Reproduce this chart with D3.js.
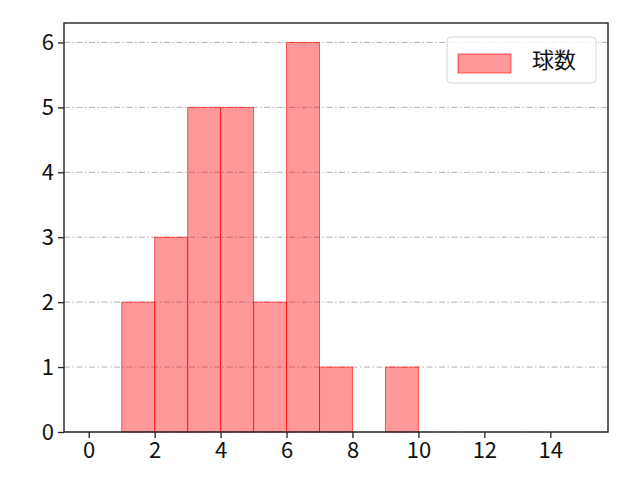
<!DOCTYPE html>
<html>
<head>
<meta charset="utf-8">
<script src="https://cdn.jsdelivr.net/npm/d3@7"></script>
<style>
  body { margin: 0; background: #fff; }
  text { font-family: "Noto Sans CJK JP", "DejaVu Sans", sans-serif; }
</style>
</head>
<body>
<svg id="chart" width="640" height="480"></svg>
<script>
// histogram bins (start, end) and counts
const binStarts = [1, 2, 3, 4, 5, 6, 7, 8, 9];
const binEnds = [2, 3, 4, 5, 6, 7, 8, 9, 10];
const counts = [2, 3, 5, 5, 2, 6, 1, 0, 1];
const xTicks = [0, 2, 4, 6, 8, 10, 12, 14];
const yTicks = [0, 1, 2, 3, 4, 5, 6];
const seriesName = "球数";

const svg = d3.select("#chart");
const margin = {left: 64, right: 32, top: 23, bottom: 48};
const width = 640 - margin.left - margin.right;
const height = 480 - margin.top - margin.bottom;

const x = d3.scaleLinear().domain([-0.75, 15.75]).range([0, width]);
const y = d3.scaleLinear().domain([0, 6.3]).range([height, 0]);

const g = svg.append("g").attr("transform", `translate(${margin.left},${margin.top})`);

// grid
g.selectAll(".grid")
    .data(yTicks)
    .enter()
    .append("line")
    .attr("x1", 0)
    .attr("x2", width)
    .attr("y1", d => y(d))
    .attr("y2", d => y(d))
    .attr("stroke", "#aaaaaa")
    .attr("stroke-width", 0.9)
    .attr("stroke-dasharray", "6,2.5,1.5,2.5");

const bins = binStarts.map((s, i) => ({x0: s, x1: binEnds[i], n: counts[i]}));

g.selectAll(".bar")
    .data(bins.filter(d => d.n > 0))
    .enter()
    .append("rect")
    .attr("x", d => x(d.x0))
    .attr("y", d => y(d.n))
    .attr("width", d => x(d.x1) - x(d.x0))
    .attr("height", d => y(0) - y(d.n))
    .attr("fill", "rgba(255,0,0,0.4)")
    .attr("stroke", "rgba(255,0,0,0.6)")
    .attr("stroke-width", 1);

// axes
const xAxis = g.append("g")
    .attr("transform", `translate(0,${height})`)
    .call(d3.axisBottom(x).tickValues(xTicks).tickFormat(d3.format("d")).tickSize(6).tickPadding(4));
const yAxis = g.append("g")
    .call(d3.axisLeft(y).tickValues(yTicks).tickFormat(d3.format("d")).tickSize(6).tickPadding(4));

[xAxis, yAxis].forEach(a => {
    a.select(".domain").remove();
    a.selectAll("line").attr("stroke", "#222").attr("stroke-width", 1.3);
    a.selectAll("text").attr("fill", "#111")
        .style("font-size", "22px")
        .style("font-family", '"Noto Sans CJK JP", "DejaVu Sans", sans-serif');
});

g.append("rect")
    .attr("width", width)
    .attr("height", height)
    .attr("fill", "none")
    .attr("stroke", "#222")
    .attr("stroke-width", 1.4);

// legend
const legend = g.append("g").attr("transform", `translate(${width - 161},14)`);
legend.append("rect")
    .attr("width", 149)
    .attr("height", 46)
    .attr("rx", 4)
    .attr("fill", "rgba(255,255,255,0.8)")
    .attr("stroke", "#d8d8d8");
legend.append("rect")
    .attr("x", 11)
    .attr("y", 17)
    .attr("width", 53)
    .attr("height", 19)
    .attr("fill", "rgba(255,0,0,0.4)")
    .attr("stroke", "rgba(255,0,0,0.6)");
legend.append("text")
    .attr("x", 85)
    .attr("y", 25)
    .attr("dominant-baseline", "middle")
    .attr("fill", "#111")
    .style("font-size", "22px")
    .text(seriesName);
</script>
</body>
</html>
